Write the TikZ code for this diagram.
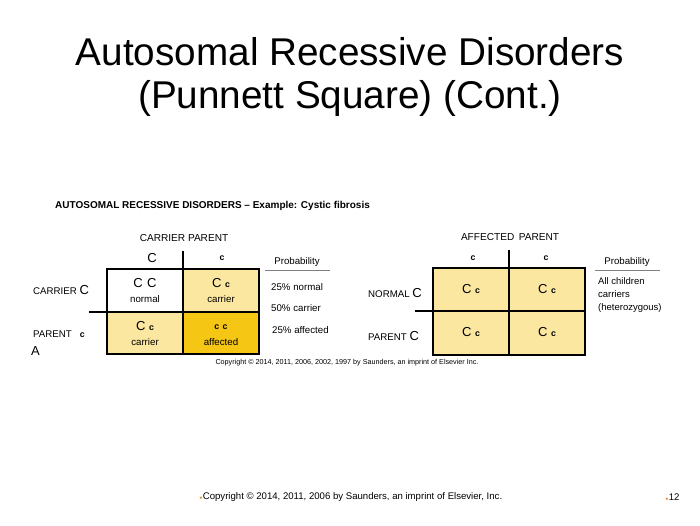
\documentclass[tikz,border=0pt]{standalone}
\usepackage{fontspec}
\setmainfont{Liberation Sans}
\definecolor{lightgold}{RGB}{251,231,160}
\definecolor{darkgold}{RGB}{245,198,20}
\definecolor{bulletor}{RGB}{230,150,60}
\newcommand{\smc}{\textbf{\fontsize{8.8}{10}\selectfont c}}
\begin{document}
\begin{tikzpicture}[x=1pt,y=-1pt,
  txt/.style={inner sep=0pt,anchor=center},
  lbl/.style={inner sep=0pt,anchor=west,font=\fontsize{9.7}{11}\selectfont},
  big/.style={font=\fontsize{13}{14}\selectfont},
  grid/.style={line width=1.3pt},
  ul/.style={line width=0.6pt,gray}]
\useasboundingbox (0,0) rectangle (700,525);
\fill[white] (0,0) rectangle (700,525);
% title
\node[txt,font=\fontsize{38.7}{40}\selectfont] (t1) at (350,52) {Autosomal Recessive Disorders};
\node[txt,font=\fontsize{38.7}{40}\selectfont] (t2) at (350,98) {(Punnett Square) (Cont.)};
% header
\node[inner sep=0pt,anchor=west,font=\fontsize{10}{12}\selectfont\bfseries] (hd) at (55,206) {AUTOSOMAL RECESSIVE DISORDERS -- Example: Cystic fibrosis};
% ---------- left square
\fill[lightgold] (183,269) rectangle (259,312);
\fill[lightgold] (107,312) rectangle (183,354);
\fill[darkgold] (183,312) rectangle (259,354);
\draw[grid] (107,269) rectangle (259,354);
\draw[grid] (183,251) -- (183,354);
\draw[grid] (89,312) -- (259,312);
\node[txt,font=\fontsize{10.1}{11}\selectfont] (lp) at (184,238) {CARRIER PARENT};
\node[txt,big] (lC) at (152,258) {C};
\node[txt] (lc) at (222,258) {\smc};
\node[lbl] (lr1) at (33,290) {CARRIER \fontsize{13}{14}\selectfont C};
\node[lbl] (lr2) at (33,334) {PARENT \ \ \smc};
\node[lbl,font=\fontsize{13}{14}\selectfont] (lA) at (31,351) {A};
\node[txt,big] (c11) at (145,283) {C\,\,C};
\node[txt,font=\fontsize{9.7}{11}\selectfont] (c11b) at (145,299) {normal};
\node[txt,big] (c12) at (221,283) {C \smc};
\node[txt,font=\fontsize{9.7}{11}\selectfont] (c12b) at (221,299) {carrier};
\node[txt,big] (c21) at (145,326) {C \smc};
\node[txt,font=\fontsize{9.7}{11}\selectfont] (c21b) at (145,342) {carrier};
\node[txt] (c22) at (221,327) {\smc\,\,\smc};
\node[txt,font=\fontsize{9.7}{11}\selectfont] (c22b) at (221,342) {affected};
\node[txt,font=\fontsize{9.7}{11}\selectfont] (lprob) at (297,262) {Probability};
\draw[ul] (265,270) -- (330,270);
\node[lbl] (p1) at (271,287) {25\% normal};
\node[lbl] (p2) at (271,308) {50\% carrier};
\node[lbl] (p3) at (272,330) {25\% affected};
% ---------- right square
\fill[lightgold] (433,268) rectangle (585,355);
\draw[grid] (433,268) rectangle (585,355);
\draw[grid] (509,250) -- (509,355);
\draw[grid] (415,311) -- (585,311);
\node[txt,font=\fontsize{10.1}{11}\selectfont] (rp) at (510,237) {AFFECTED\, PARENT};
\node[txt] (rc1) at (473,258) {\smc};
\node[txt] (rc2) at (546,258) {\smc};
\node[lbl] (rr1) at (368,293) {NORMAL \fontsize{13}{14}\selectfont C};
\node[lbl] (rr2) at (368,336) {PARENT \fontsize{13}{14}\selectfont C};
\node[txt,big] (d11) at (471,289) {C \smc};
\node[txt,big] (d12) at (547,289) {C \smc};
\node[txt,big] (d21) at (471,332) {C \smc};
\node[txt,big] (d22) at (547,332) {C \smc};
\node[txt,font=\fontsize{9.7}{11}\selectfont] (rprob) at (627,262) {Probability};
\draw[ul] (595,270) -- (660,270);
\node[lbl,align=left,anchor=north west,font=\fontsize{9.5}{13}\selectfont] (rtxt) at (598,277) {All children\\carriers\\(heterozygous)};
% copyright
\node[txt,font=\fontsize{7.2}{8}\selectfont] (cp) at (347,363) {Copyright \textcopyright{} 2014, 2011, 2006, 2002, 1997 by Saunders, an imprint of Elsevier Inc.};
% footer
\node[inner sep=0pt,anchor=west,font=\fontsize{9.6}{11}\selectfont] (ft) at (199,497) {\textcolor{bulletor}{\fontsize{4}{5}\selectfont$\bullet$}Copyright \textcopyright{} 2014, 2011, 2006 by Saunders, an imprint of Elsevier, Inc.};
\node[inner sep=0pt,anchor=west,font=\fontsize{9.6}{11}\selectfont] (pg) at (665,497) {\textcolor{bulletor}{\fontsize{4}{5}\selectfont$\bullet$}12};
\end{tikzpicture}
\end{document}
